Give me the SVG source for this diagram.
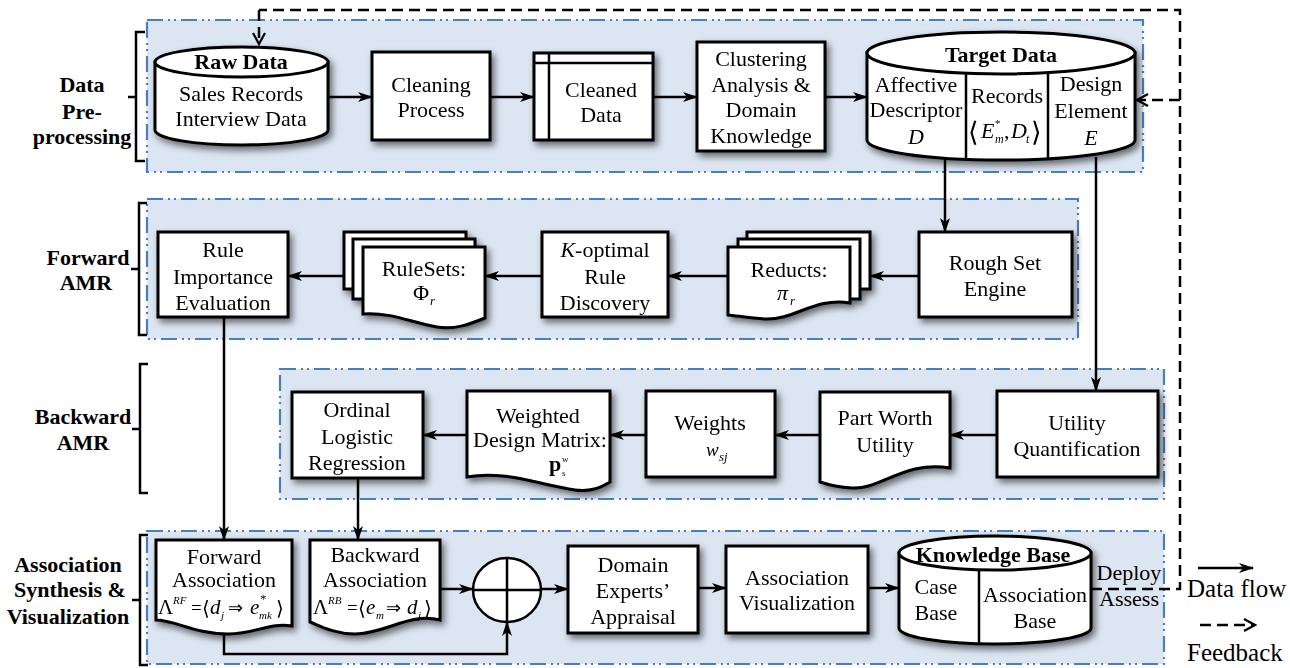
<svg xmlns="http://www.w3.org/2000/svg" width="1290" height="668" viewBox="0 0 1290 668">
  <style>
    text { font-family: "Liberation Serif", "Times New Roman", serif; fill: #000; }
    .t { font-size: 22px; text-anchor: middle; }
    .tb { font-size: 22px; text-anchor: middle; font-weight: bold; }
    .lab { font-size: 22px; text-anchor: middle; font-weight: bold; }
    .it { font-style: italic; }
    .sym { font-family: "DejaVu Sans", sans-serif; }
    .panel { fill: #dce6f2; stroke: #4a7ebb; stroke-width: 2.2; stroke-dasharray: 16 5 2 4 2 5; }
    .box { fill: #fff; stroke: #000; stroke-width: 3; }
    .thin { fill: none; stroke: #000; stroke-width: 2.5; }
    .flow { fill: none; stroke: #000; stroke-width: 2.5; marker-end: url(#arr); }
    .fb { fill: none; stroke: #000; stroke-width: 2.5; stroke-dasharray: 11 6; }
    .fba { fill: none; stroke: #000; stroke-width: 2.5; stroke-dasharray: 11 6; marker-end: url(#open); }
    .brk { fill: none; stroke: #000; stroke-width: 2.5; }
  </style>
  <defs>
    <marker id="arr" markerUnits="userSpaceOnUse" markerWidth="15" markerHeight="10" refX="14" refY="5" orient="auto">
      <path d="M0,0 L15,5 L0,10 L4,5 Z" fill="#000"/>
    </marker>
    <marker id="open" markerUnits="userSpaceOnUse" markerWidth="14" markerHeight="14" refX="12" refY="7" orient="auto">
      <path d="M1,1 L12,7 L1,13" fill="none" stroke="#000" stroke-width="2.2"/>
    </marker>
    <filter id="sh" x="-20%" y="-20%" width="150%" height="150%">
      <feGaussianBlur in="SourceAlpha" stdDeviation="3.5"/>
      <feOffset dx="3" dy="4" result="b"/>
      <feFlood flood-color="#000" flood-opacity="0.55"/>
      <feComposite in2="b" operator="in"/>
      <feMerge><feMergeNode/><feMergeNode in="SourceGraphic"/></feMerge>
    </filter>
  </defs>

  <rect width="1290" height="668" fill="#fff"/>

  <!-- stage panels -->
  <g id="panels">
    <rect class="panel" x="147" y="20" width="996" height="152"/>
    <rect class="panel" x="147" y="199" width="931" height="140"/>
    <rect class="panel" x="280" y="369" width="884" height="130"/>
    <rect class="panel" x="147" y="531" width="1017" height="133"/>
  </g>

  <!-- stage labels with brackets -->
  <g id="stage-labels">
    <path class="brk" d="M145,32 H136 V161 H145 M136,97 H128"/>
    <text class="lab" x="82" y="92">Data</text>
    <text class="lab" x="82" y="119">Pre-</text>
    <text class="lab" x="82" y="144">processing</text>

    <path class="brk" d="M147,203 H139 V335 H147 M139,269 H131"/>
    <text class="lab" x="88" y="265">Forward</text>
    <text class="lab" x="86" y="290">AMR</text>

    <path class="brk" d="M148,364 H140 V493 H148 M140,429 H132"/>
    <text class="lab" x="83" y="424">Backward</text>
    <text class="lab" x="83" y="450">AMR</text>

    <path class="brk" d="M148,535 H140 V665 H148 M140,600 H132"/>
    <text class="lab" x="68" y="572">Association</text>
    <text class="lab" x="70" y="597">Synthesis &amp;</text>
    <text class="lab" x="68" y="624">Visualization</text>
  </g>

  <!-- connectors -->
  <g id="connectors">
    <line class="flow" x1="328" y1="97" x2="372" y2="97"/>
    <line class="flow" x1="490" y1="97" x2="534" y2="97"/>
    <line class="flow" x1="653" y1="97" x2="697" y2="97"/>
    <line class="flow" x1="825" y1="97" x2="867" y2="97"/>
    <line class="flow" x1="945" y1="159" x2="945" y2="232"/>
    <line class="flow" x1="1096" y1="157" x2="1096" y2="391"/>
    <line class="flow" x1="919" y1="276" x2="870" y2="276"/>
    <line class="flow" x1="728" y1="276" x2="668" y2="276"/>
    <line class="flow" x1="542" y1="276" x2="485" y2="276"/>
    <line class="flow" x1="344" y1="276" x2="288" y2="276"/>
    <line class="flow" x1="224" y1="317" x2="224" y2="540"/>
    <line class="flow" x1="997" y1="435" x2="950" y2="435"/>
    <line class="flow" x1="820" y1="435" x2="775" y2="435"/>
    <line class="flow" x1="646" y1="435" x2="610" y2="435"/>
    <line class="flow" x1="467" y1="435" x2="423" y2="435"/>
    <line class="flow" x1="358" y1="478" x2="358" y2="540"/>
    <line class="flow" x1="440" y1="589" x2="473" y2="589"/>
    <line class="flow" x1="541" y1="589" x2="568" y2="589"/>
    <polyline class="flow" points="224,630 224,654 507,654 507,622"/>
    <line class="flow" x1="698" y1="588" x2="726" y2="588"/>
    <line class="flow" x1="868" y1="588" x2="899" y2="588"/>
    <!-- feedback loop -->
    <polyline class="fb" points="1091,589 1180,589 1180,10 259,10"/>
    <line class="fba" x1="259" y1="10" x2="259" y2="44"/>
    <line class="fba" x1="1180" y1="100" x2="1137" y2="100"/>
  </g>

  <!-- data pre-processing -->
  <g id="raw-data" filter="url(#sh)">
    <path class="box" d="M155,62 L155,130 A86.5,15 0 0 0 328,130 L328,62 Z"/>
    <ellipse class="box" cx="241.5" cy="62" rx="86.5" ry="15"/>
    <text class="tb" x="241" y="69">Raw Data</text>
    <text class="t" x="241" y="101">Sales Records</text>
    <text class="t" x="241" y="126">Interview Data</text>
  </g>
  <g id="cleaning-process" filter="url(#sh)">
    <rect class="box" x="372" y="52" width="118" height="88"/>
    <text class="t" x="431" y="92">Cleaning</text>
    <text class="t" x="431" y="117">Process</text>
  </g>
  <g id="cleaned-data" filter="url(#sh)">
    <rect class="box" x="534" y="53" width="119" height="87"/>
    <path class="thin" d="M549,53 V140 M534,63 H653"/>
    <text class="t" x="601" y="97">Cleaned</text>
    <text class="t" x="601" y="122">Data</text>
  </g>
  <g id="clustering" filter="url(#sh)">
    <rect class="box" x="697" y="42" width="128" height="109"/>
    <text class="t" x="761" y="66">Clustering</text>
    <text class="t" x="761" y="92">Analysis &amp;</text>
    <text class="t" x="761" y="117">Domain</text>
    <text class="t" x="761" y="143">Knowledge</text>
  </g>
  <g id="target-data" filter="url(#sh)">
    <path class="box" d="M867,53 L867,140 A134,20 0 0 0 1135,140 L1135,53 Z"/>
    <ellipse class="box" cx="1001" cy="53" rx="134" ry="21"/>
    <path class="thin" d="M966,73 V159 M1048,73 V159"/>
    <text class="tb" x="1001" y="62">Target Data</text>
    <text class="t" x="916" y="92">Affective</text>
    <text class="t" x="916" y="117">Descriptor</text>
    <text class="t it" x="916" y="144">D</text>
    <text class="t" x="1007" y="103">Records</text>
    <text class="sym" x="968" y="141" font-size="27">⟨</text>
    <text class="it" x="981" y="138" font-size="22">E</text>
    <text x="995" y="127" font-size="11">*</text>
    <text class="it" x="995" y="143" font-size="12">m</text>
    <text x="1004" y="138" font-size="22">,</text>
    <text class="it" x="1011" y="138" font-size="22">D</text>
    <text class="it" x="1026" y="143" font-size="12">t</text>
    <text class="sym" x="1031" y="141" font-size="27">⟩</text>
    <text class="t" x="1091" y="91">Design</text>
    <text class="t" x="1091" y="118">Element</text>
    <text class="t it" x="1091" y="145">E</text>
  </g>

  <!-- forward AMR -->
  <g id="rule-importance" filter="url(#sh)">
    <rect class="box" x="158" y="232" width="130" height="85"/>
    <text class="t" x="223" y="257">Rule</text>
    <text class="t" x="223" y="284">Importance</text>
    <text class="t" x="223" y="310">Evaluation</text>
  </g>
  <g id="rulesets" filter="url(#sh)">
    <rect class="box" x="344" y="232" width="122" height="57"/>
    <rect class="box" x="353" y="239" width="122" height="60"/>
    <path class="box" d="M363,247 H485 V318 C470,324 455,330 437,327 C410,322 390,312 363,314 Z"/>
    <text class="t" x="424" y="276">RuleSets:</text>
    <text x="413" y="300" font-size="22">Φ</text>
    <text class="it" x="430" y="305" font-size="13">r</text>
  </g>
  <g id="k-optimal" filter="url(#sh)">
    <rect class="box" x="542" y="232" width="126" height="85"/>
    <text class="t" x="605" y="257"><tspan class="it">K</tspan>-optimal</text>
    <text class="t" x="605" y="284">Rule</text>
    <text class="t" x="605" y="310">Discovery</text>
  </g>
  <g id="reducts" filter="url(#sh)">
    <rect class="box" x="747" y="232" width="123" height="57"/>
    <rect class="box" x="738" y="239" width="122" height="60"/>
    <path class="box" d="M728,247 H850 V303 C815,297 795,320 765,319 C750,318 738,316 728,315 Z"/>
    <text class="t" x="789" y="277">Reducts:</text>
    <text class="it" x="777" y="300" font-size="22">π</text>
    <text class="it" x="790" y="305" font-size="13">r</text>
  </g>
  <g id="rough-set" filter="url(#sh)">
    <rect class="box" x="919" y="232" width="153" height="85"/>
    <text class="t" x="995" y="270">Rough Set</text>
    <text class="t" x="995" y="296">Engine</text>
  </g>

  <!-- backward AMR -->
  <g id="ordinal" filter="url(#sh)">
    <rect class="box" x="292" y="392" width="131" height="86"/>
    <text class="t" x="357" y="417">Ordinal</text>
    <text class="t" x="357" y="444">Logistic</text>
    <text class="t" x="357" y="470">Regression</text>
  </g>
  <g id="weighted-matrix" filter="url(#sh)">
    <path class="box" d="M467,391 H610 V482 C600,488 590,492 575,490 C540,485 505,470 467,477 Z"/>
    <text class="t" x="538" y="423">Weighted</text>
    <text class="t" x="540" y="447">Design Matrix:</text>
    <text x="549" y="471" font-size="22" font-weight="bold">p</text>
    <text x="562" y="462" font-size="9">w</text>
    <text x="562" y="476" font-size="9">s</text>
  </g>
  <g id="weights" filter="url(#sh)">
    <rect class="box" x="646" y="391" width="129" height="86"/>
    <text class="t" x="710" y="430">Weights</text>
    <text class="it" x="706" y="456" font-size="19">w</text>
    <text class="it" x="719" y="461" font-size="13">sj</text>
  </g>
  <g id="part-worth" filter="url(#sh)">
    <path class="box" d="M820,392 H950 V468 C905,460 880,490 852,488 C836,487 826,484 820,482 Z"/>
    <text class="t" x="885" y="425">Part Worth</text>
    <text class="t" x="885" y="452">Utility</text>
  </g>
  <g id="utility-quantification" filter="url(#sh)">
    <rect class="box" x="997" y="391" width="161" height="86"/>
    <text class="t" x="1077" y="430">Utility</text>
    <text class="t" x="1077" y="456">Quantification</text>
  </g>

  <!-- association synthesis & visualization -->
  <g id="forward-association" filter="url(#sh)">
    <path class="box" d="M156,540 H292 V626 C270,622 255,634 228,634 C195,634 175,620 156,620 Z"/>
    <text class="t" x="224" y="564">Forward</text>
    <text class="t" x="224" y="587">Association</text>
    <text x="158" y="614" font-size="21">Λ</text>
    <text class="it" x="173" y="604" font-size="11">RF</text>
    <text x="191" y="614" font-size="19">=</text>
    <text class="sym" x="202" y="615" font-size="20">⟨</text>
    <text class="it" x="210" y="614" font-size="21">d</text>
    <text class="it" x="221" y="619" font-size="11">j</text>
    <text class="sym" x="228" y="614" font-size="18">⇒</text>
    <text class="it" x="250" y="614" font-size="21">e</text>
    <text x="260" y="603" font-size="13">*</text>
    <text class="it" x="259" y="619" font-size="11">mk</text>
    <text class="sym" x="276" y="615" font-size="20">⟩</text>
  </g>
  <g id="backward-association" filter="url(#sh)">
    <path class="box" d="M310,540 H440 V620 C410,612 385,634 355,634 C335,634 320,626 310,622 Z"/>
    <text class="t" x="375" y="562">Backward</text>
    <text class="t" x="375" y="587">Association</text>
    <text x="313" y="614" font-size="21">Λ</text>
    <text class="it" x="328" y="604" font-size="11">RB</text>
    <text x="347" y="614" font-size="19">=</text>
    <text class="sym" x="358" y="615" font-size="20">⟨</text>
    <text class="it" x="366" y="614" font-size="21">e</text>
    <text class="it" x="376" y="619" font-size="11">m</text>
    <text class="sym" x="386" y="614" font-size="18">⇒</text>
    <text class="it" x="407" y="614" font-size="21">d</text>
    <text class="it" x="418" y="619" font-size="11">j</text>
    <text class="sym" x="424" y="615" font-size="20">⟩</text>
  </g>
  <g id="synthesis">
    <ellipse cx="507" cy="590" rx="34" ry="32" fill="#fff" stroke="#000" stroke-width="2.5"/>
    <path class="thin" d="M473,590 H541 M507,558 V622"/>
  </g>
  <g id="domain-experts" filter="url(#sh)">
    <rect class="box" x="568" y="546" width="130" height="87"/>
    <text class="t" x="633" y="572">Domain</text>
    <text class="t" x="633" y="598">Experts’</text>
    <text class="t" x="633" y="624">Appraisal</text>
  </g>
  <g id="association-visualization" filter="url(#sh)">
    <rect class="box" x="726" y="546" width="142" height="87"/>
    <text class="t" x="797" y="585">Association</text>
    <text class="t" x="797" y="610">Visualization</text>
  </g>
  <g id="knowledge-base" filter="url(#sh)">
    <path class="box" d="M899,553 L899,628 A96,16 0 0 0 1091,628 L1091,553 Z"/>
    <ellipse class="box" cx="995" cy="553" rx="96" ry="17"/>
    <path class="thin" d="M979,570 V644"/>
    <text class="tb" x="993" y="562" font-size="21">Knowledge Base</text>
    <text class="t" x="936" y="594">Case</text>
    <text class="t" x="936" y="620">Base</text>
    <text class="t" x="1035" y="602">Association</text>
    <text class="t" x="1035" y="628">Base</text>
  </g>
  <g id="deploy-assess">
    <text class="t" x="1129" y="580" font-size="21">Deploy</text>
    <text class="t" x="1129" y="606" font-size="21">Assess</text>
  </g>

  <!-- legend -->
  <g id="legend">
    <line class="flow" x1="1198" y1="568" x2="1253" y2="568"/>
    <text x="1187" y="597" font-size="25">Data flow</text>
    <line class="fba" x1="1200" y1="625" x2="1255" y2="625"/>
    <text x="1187" y="661" font-size="25">Feedback</text>
  </g>
</svg>
